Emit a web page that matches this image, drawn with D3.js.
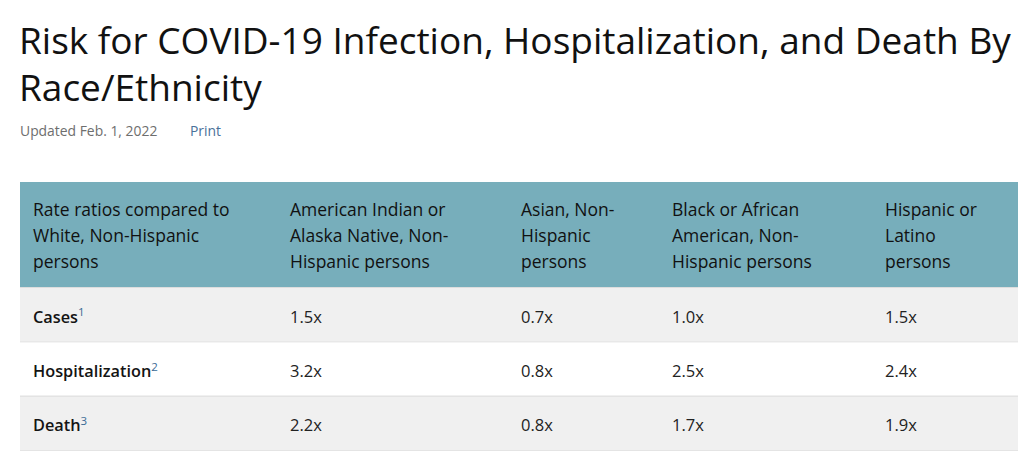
<!DOCTYPE html>
<html><head><meta charset="utf-8">
<script src="https://cdn.jsdelivr.net/npm/d3@7"></script>
<style>
html,body{margin:0;padding:0;background:#fff;}
svg{display:block;font-family:"Open Sans",sans-serif;}
</style></head>
<body>
<svg id="c" width="1024" height="466"></svg>
<script>
const titleLines = ["Risk for COVID-19 Infection, Hospitalization, and Death By", "Race/Ethnicity"];
const updated = "Updated Feb. 1, 2022";
const printLabel = "Print";
const headerLabels = [
  ["Rate ratios compared to", "White, Non-Hispanic", "persons"],
  ["American Indian or", "Alaska Native, Non-", "Hispanic persons"],
  ["Asian, Non-", "Hispanic", "persons"],
  ["Black or African", "American, Non-", "Hispanic persons"],
  ["Hispanic or", "Latino", "persons"]
];
const measures = ["Cases", "Hospitalization", "Death"];
const footnotes = ["1", "2", "3"];
const aian = [1.5, 3.2, 2.2];
const asian = [0.7, 0.8, 0.8];
const black = [1.0, 2.5, 1.7];
const hispanic = [1.5, 2.4, 1.9];

const svg = d3.select("#c");
const tableLeft = 20, tableRight = 1018;
const headerTop = 182, headerBottom = 287, tableBottom = 450;
const pad = 13;

// Title
svg.selectAll("text.title").data(titleLines).join("text")
  .attr("class","title")
  .attr("x", 19).attr("y", (d,i)=> 54 + i*47)
  .attr("font-size", 37).attr("fill", "#111")
  .text(d=>d);

svg.append("text").attr("x", 20).attr("y", 136).attr("font-size", 13.9).attr("fill","#6e6e6e").text(updated);
svg.append("text").attr("x", 190).attr("y", 136).attr("font-size", 13.9).attr("fill","#4a719a").text(printLabel);

// Columns
const colStarts = [0, 257, 488, 639, 852].map(v => v / (tableRight - tableLeft));
const x = d3.scaleLinear().domain([0,1]).range([tableLeft, tableRight]);
const colX = i => x(colStarts[i]) + pad;

// Rows
const y = d3.scaleBand().domain(measures).range([headerBottom, tableBottom]);

// Header background
svg.append("rect").attr("x", tableLeft).attr("y", headerTop)
  .attr("width", tableRight - tableLeft).attr("height", headerBottom - headerTop)
  .attr("fill", "#77aebb");

// Body row backgrounds
svg.selectAll("rect.row").data(measures).join("rect")
  .attr("class","row")
  .attr("x", tableLeft).attr("y", d=>y(d))
  .attr("width", tableRight - tableLeft).attr("height", y.bandwidth())
  .attr("fill", (d,i)=> i%2===0 ? "#f0f0f0" : "#ffffff");

// Row borders
svg.selectAll("line.border").data(measures).join("line")
  .attr("class","border")
  .attr("x1", tableLeft).attr("x2", tableRight)
  .attr("y1", d=>y(d)+0.5).attr("y2", d=>y(d)+0.5)
  .attr("stroke", "#dddddd").attr("stroke-width", 1);
svg.append("line").attr("x1", tableLeft).attr("x2", tableRight)
  .attr("y1", tableBottom+0.5).attr("y2", tableBottom+0.5)
  .attr("stroke", "#e4e4e4");

// Header text
const hg = svg.selectAll("g.hcol").data(headerLabels).join("g").attr("class","hcol");
hg.each(function(lines, ci){
  d3.select(this).selectAll("text").data(lines).join("text")
    .attr("x", colX(ci)).attr("y", (d,li)=> 216 + li*26)
    .attr("font-size", 17.5).attr("fill", "#111")
    .text(d=>d);
});

// Row labels with footnote superscripts
measures.forEach((m, ri) => {
  const t = svg.append("text").attr("x", colX(0))
    .attr("y", y(m) + y.bandwidth()/2 + 8.5)
    .attr("font-size", 16.3).attr("fill", "#141414").attr("font-weight", 600);
  t.append("tspan").text(m);
  t.append("tspan").attr("dy", -6.5).attr("font-size", 11.5).attr("font-weight", 400)
    .attr("fill", "#3b6a96").text(footnotes[ri]);
});

// Values
const series = [aian, asian, black, hispanic];
const fmt = d3.format(".1f");
series.forEach((vals, si) => {
  svg.selectAll("text.v"+si).data(vals).join("text")
    .attr("class","v"+si)
    .attr("x", colX(si+1))
    .attr("y", (d,i)=> y(measures[i]) + y.bandwidth()/2 + 8.5)
    .attr("font-size", 16.5).attr("fill", "#222")
    .text(d => fmt(d) + "x");
});
</script>
</body></html>
